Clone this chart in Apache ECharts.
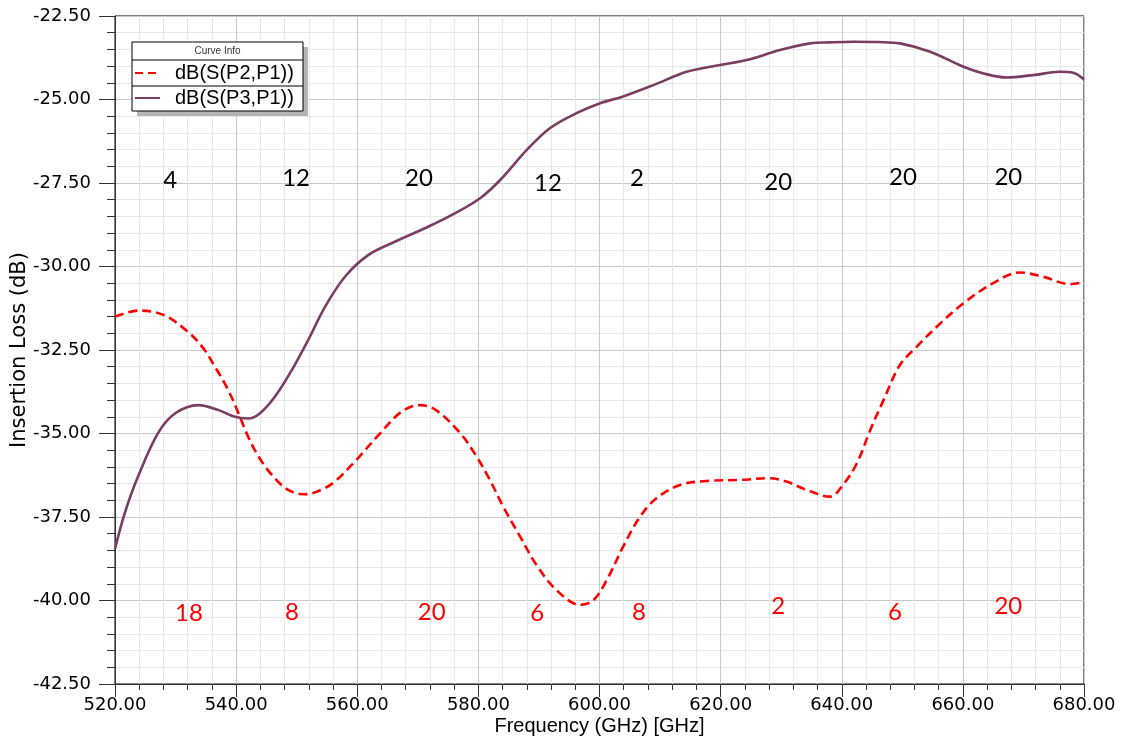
<!DOCTYPE html>
<html>
<head>
<meta charset="utf-8">
<script src="https://cdn.jsdelivr.net/npm/echarts@6/dist/echarts.min.js"></script>
<style>html,body{margin:0;padding:0;background:#fff}#c{width:1122px;height:740px}</style>
</head>
<body>
<div id="c"></div>
<script>
// ---- data ----
const s21Name = 'dB(S(P2,P1))';
const s31Name = 'dB(S(P3,P1))';
const freqS21 = [520, 524, 528, 532, 534.6, 536.5, 538.7, 540.4, 542, 543.7, 545.9, 548.6, 551.4, 554, 556.3, 559.6, 564, 567.3, 570.4, 573, 577, 579.7, 581.9, 584.1, 586.9, 589.6, 592.9, 596.8, 599, 601.2, 603.9, 606.7, 609.4, 613.3, 617.7, 623.2, 628, 630.9, 634.2, 638.1, 640, 642.5, 644.7, 646.9, 649.6, 652.4, 655.7, 660.1, 665, 669.4, 673.3, 677.7, 680];
const dbS21 = [-31.50, -31.32, -31.45, -31.95, -32.45, -33.0, -33.70, -34.40, -35.10, -35.69, -36.24, -36.69, -36.82, -36.69, -36.44, -35.84, -34.95, -34.35, -34.15, -34.30, -34.99, -35.69, -36.39, -37.19, -38.09, -38.94, -39.69, -40.13, -39.99, -39.39, -38.39, -37.49, -36.94, -36.54, -36.42, -36.39, -36.34, -36.44, -36.69, -36.89, -36.59, -35.89, -34.90, -34.0, -32.95, -32.40, -31.80, -31.10, -30.50, -30.18, -30.31, -30.53, -30.47];
const freqS31 = [520, 521.6, 523.8, 527.1, 529.9, 533.8, 537.1, 539.8, 542, 543.9, 546.4, 549.2, 551.9, 554.7, 558, 561.8, 566.2, 571.7, 576.1, 580.4, 583.6, 588, 591.8, 596.2, 600.1, 603.9, 608.9, 614.4, 619.9, 624.3, 629.8, 634.8, 638, 642, 646, 649.6, 654.6, 660.1, 663.4, 667.2, 671.6, 676, 678.2, 680];
const dbS31 = [-38.45, -37.39, -36.29, -34.99, -34.40, -34.15, -34.30, -34.50, -34.55, -34.40, -33.90, -33.10, -32.20, -31.20, -30.30, -29.66, -29.26, -28.81, -28.41, -27.94, -27.41, -26.51, -25.86, -25.41, -25.11, -24.91, -24.57, -24.17, -23.97, -23.82, -23.52, -23.32, -23.29, -23.27, -23.28, -23.32, -23.57, -24.02, -24.22, -24.34, -24.27, -24.17, -24.20, -24.40];
// annotations (black, upper)
const topNoteX = [529.1, 549.9, 570.2, 591.5, 606.2, 629.5, 650.1, 667.5];
const topNoteY = [-27.41, -27.35, -27.35, -27.5, -27.35, -27.47, -27.33, -27.33];
const topNoteText = ['4', '12', '20', '12', '2', '20', '20', '20'];
// annotations (red, lower)
const botNoteX = [532.2, 549.2, 572.3, 589.7, 606.5, 629.5, 648.8, 667.5];
const botNoteY = [-40.37, -40.34, -40.34, -40.37, -40.34, -40.16, -40.34, -40.16];
const botNoteText = ['18', '8', '20', '6', '8', '2', '6', '20'];
// axes
const xMin = 520, xMax = 680, xStep = 20;
const yMin = -42.5, yMax = -22.5, yStep = 2.5;
const xTitle = 'Frequency (GHz) [GHz]';
const yTitle = 'Insertion Loss (dB)';
const legendTitle = 'Curve Info';

const zip = (a, b) => a.map((v, i) => [v, b[i]]);
const notes = (xs, ys, ts) => xs.map((v, i) => ({ value: [v, ys[i]], label: { formatter: ts[i] } }));

const chart = echarts.init(document.getElementById('c'), null, { renderer: 'canvas' });
const tickFont = { fontFamily: 'DejaVu Sans', fontSize: 18, color: '#000' };
const noteLabel = (c) => ({ show: true, position: 'inside', fontFamily: 'Lato', fontSize: 24, color: c, textBorderWidth: 0, textShadowBlur: 0, opacity: 1 });
const LX = 132, LY = 42, LW = 171, LH = 69;
chart.setOption({
  animation: false,
  backgroundColor: '#fff',
  grid: { left: 115, right: 38, top: 16, bottom: 56, show: true, borderColor: '#000', borderWidth: 1, backgroundColor: 'transparent', containLabel: false, outerBoundsMode: 'none' },
  xAxis: {
    type: 'value', min: xMin, max: xMax, interval: xStep,
    name: xTitle, nameLocation: 'middle', nameGap: 32, nameMoveOverlap: false,
    nameTextStyle: { fontFamily: 'Liberation Sans', fontSize: 20, color: '#000' },
    axisLine: { show: true, lineStyle: { color: '#333', width: 1 } },
    axisTick: { show: true, length: 13, lineStyle: { color: '#333' } },
    minorTick: { show: true, splitNumber: 5, length: 6, lineStyle: { color: '#333' } },
    splitLine: { show: true, lineStyle: { color: '#c8c8c8', width: 1 } },
    minorSplitLine: { show: true, lineStyle: { color: '#e8e8e8', width: 1 } },
    axisLabel: Object.assign({ margin: 12, formatter: v => v.toFixed(2) }, tickFont)
  },
  yAxis: {
    type: 'value', min: yMin, max: yMax, interval: yStep,
    name: yTitle, nameLocation: 'middle', nameGap: 85, nameRotate: 90, nameMoveOverlap: false,
    nameTextStyle: { fontFamily: 'DejaVu Sans', fontSize: 21, color: '#000' },
    axisLine: { show: true, lineStyle: { color: '#333', width: 1 } },
    axisTick: { show: true, length: 16, lineStyle: { color: '#333' } },
    minorTick: { show: true, splitNumber: 5, length: 8, lineStyle: { color: '#333' } },
    splitLine: { show: true, lineStyle: { color: '#c8c8c8', width: 1 } },
    minorSplitLine: { show: true, lineStyle: { color: '#e8e8e8', width: 1 } },
    axisLabel: Object.assign({ margin: 24, formatter: v => v.toFixed(2) }, tickFont)
  },
  series: [
    {
      name: s21Name, type: 'line', data: zip(freqS21, dbS21), smooth: 0.35, showSymbol: false, symbol: 'none',
      lineStyle: { color: '#ff0000', width: 2.6, type: [9, 5] }, z: 3
    },
    {
      name: s31Name, type: 'line', data: zip(freqS31, dbS31), smooth: 0.35, showSymbol: false, symbol: 'none',
      lineStyle: { color: '#7a3d63', width: 2.6 }, z: 4
    },
    {
      type: 'scatter', symbolSize: 0, silent: true, data: notes(topNoteX, topNoteY, topNoteText),
      itemStyle: { opacity: 1 }, label: noteLabel('#000000'), z: 6
    },
    {
      type: 'scatter', symbolSize: 0, silent: true, data: notes(botNoteX, botNoteY, botNoteText),
      itemStyle: { opacity: 1 }, label: noteLabel('#ff0000'), z: 6
    }
  ],
  graphic: [
    { type: 'rect', z: 50, shape: { x: LX + 5, y: LY + 5, width: LW, height: LH }, style: { fill: '#b4b4b4' } },
    { type: 'rect', z: 51, shape: { x: LX, y: LY, width: LW, height: LH }, style: { fill: '#fff', stroke: '#000', lineWidth: 1 } },
    { type: 'line', z: 52, shape: { x1: LX, y1: LY + 18, x2: LX + LW, y2: LY + 18 }, style: { stroke: '#000', lineWidth: 1 } },
    { type: 'line', z: 52, shape: { x1: LX, y1: LY + 44, x2: LX + LW, y2: LY + 44 }, style: { stroke: '#000', lineWidth: 1 } },
    { type: 'text', z: 53, x: LX + LW / 2, y: LY + 9, style: { text: legendTitle, font: '10px "Liberation Sans"', fill: '#333', textAlign: 'center', textVerticalAlign: 'middle' } },
    { type: 'line', z: 53, shape: { x1: LX + 3, y1: LY + 31, x2: LX + 28, y2: LY + 31 }, style: { stroke: '#ff0000', lineWidth: 2, lineDash: [8, 5] } },
    { type: 'text', z: 53, x: LX + 43, y: LY + 31, style: { text: s21Name, font: '20px "Liberation Sans"', fill: '#000', textVerticalAlign: 'middle' } },
    { type: 'line', z: 53, shape: { x1: LX + 3, y1: LY + 56, x2: LX + 28, y2: LY + 56 }, style: { stroke: '#7a3d63', lineWidth: 2 } },
    { type: 'text', z: 53, x: LX + 43, y: LY + 56, style: { text: s31Name, font: '20px "Liberation Sans"', fill: '#000', textVerticalAlign: 'middle' } }
  ]
});
</script>
</body>
</html>
